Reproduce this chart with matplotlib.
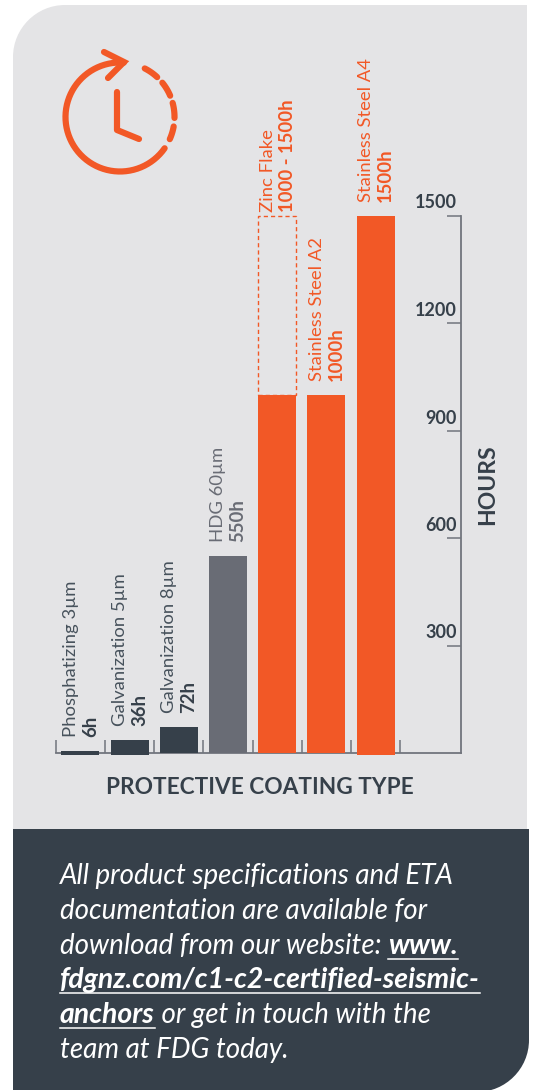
import numpy as np
import matplotlib
matplotlib.use("Agg")
import matplotlib.pyplot as plt
from matplotlib.path import Path
from matplotlib.patches import PathPatch

# --- DATA ---
COATINGS = ["Phosphatizing 3µm", "Galvanization 5µm", "Galvanization 8µm", "HDG 60µm",
            "Zinc Flake", "Stainless Steel A2", "Stainless Steel A4"]
HOURS_LABELS = ["6h", "36h", "72h", "550h", "1000 - 1500h", "1000h", "1500h"]
HOURS = [6, 36, 72, 550, 1000, 1000, 1500]
ZINC_UPPER = 1500
HOUR_TICKS = [300, 600, 900, 1200, 1500]

# --- STYLE ---
GREY_BG = "#E4E4E6"
SLATE = "#36404A"
ORANGE = "#F25826"
MID_GREY = "#696C75"
AXIS_GREY = "#71757D"
BAR_COLORS = [SLATE, SLATE, SLATE, MID_GREY, ORANGE, ORANGE, ORANGE]
NAME_COLORS = ["#47525C", "#47525C", "#47525C", MID_GREY, ORANGE, ORANGE, ORANGE]
VALUE_COLORS = [SLATE, SLATE, SLATE, MID_GREY, ORANGE, ORANGE, ORANGE]
FONT = "Lato"
W, H = 534, 1090
PX = 0.72  # points per pixel at dpi=100

plt.rcParams["font.family"] = FONT
fig = plt.figure(figsize=(W / 100, H / 100), dpi=100, facecolor="white")

# Page layer in pixel coordinates for panels, icon and the note
page = fig.add_axes([0, 0, 1, 1])
page.set_xlim(0, W)
page.set_ylim(H, 0)
page.axis("off")

def rounded_panel(x0, y0, x1, y1, tl=0, br=0):
    """Rectangle with optional rounded top-left / bottom-right corners."""
    k = 0.45
    verts = [(x0 + tl, y0), (x1, y0), (x1, y1 - br)]
    codes = [Path.MOVETO, Path.LINETO, Path.LINETO]
    if br:
        verts += [(x1, y1 - br * k), (x1 - br * k, y1), (x1 - br, y1)]
        codes += [Path.CURVE4] * 3
    verts += [(x0, y1), (x0, y0 + tl)]
    codes += [Path.LINETO, Path.LINETO]
    if tl:
        verts += [(x0, y0 + tl * k), (x0 + tl * k, y0), (x0 + tl, y0)]
        codes += [Path.CURVE4] * 3
    return Path(verts, codes)

page.add_patch(PathPatch(rounded_panel(13, 5, 527, 829, tl=52), fc=GREY_BG, ec="none"))
page.add_patch(PathPatch(rounded_panel(13, 829, 529, 1092, br=52), fc=SLATE, ec="none"))

# Clock icon with circular arrow
ICON_CX, ICON_CY, ICON_R = 120, 117, 54.5
icon_lw = 6.2 * PX

def icon_arc(a0, a1):
    t = np.radians(np.linspace(a0, a1, 60))
    page.plot(ICON_CX + ICON_R * np.cos(t), ICON_CY - ICON_R * np.sin(t), color=ORANGE,
              lw=icon_lw, solid_capstyle="round")

icon_arc(86, 325)
for a0, a1 in [(63, 47), (39, 23), (15, -1), (-10, -24)]:
    icon_arc(a0, a1)
page.plot([104, 124, 108], [52, 62, 78], color=ORANGE, lw=icon_lw,
          solid_capstyle="round", solid_joinstyle="miter")
page.plot([117, 117, 139], [92, 130, 139], color=ORANGE, lw=icon_lw,
          solid_capstyle="round", solid_joinstyle="round")

# Chart axes: baseline at y=753, 1500h at y=215.5, right spine at x=461
AX_L, AX_R, AX_TOP, AX_BOT = 55.5, 461, 215.5, 753
BAR_X0, BAR_STEP = 80.3, 49.2
ax = fig.add_axes([AX_L / W, 1 - AX_BOT / H, (AX_R - AX_L) / W, (AX_BOT - AX_TOP) / H])
ax.patch.set_alpha(0)
ax.set_xlim((AX_L - BAR_X0) / BAR_STEP, (AX_R - BAR_X0) / BAR_STEP)
ax.set_ylim(0, 1500)

x = np.arange(len(COATINGS))
bar_w = 38 / BAR_STEP
sunk = {0, 1, 6}  # these bars sit slightly below the baseline
for i, (val, col) in enumerate(zip(HOURS, BAR_COLORS)):
    bottom = -5 if i in sunk else 0
    ax.bar(x[i], val - bottom, bottom=bottom, width=bar_w, color=col, zorder=3, clip_on=False)

# Zinc flake range shown as a dashed box above the solid bar
ax.bar(x[4], ZINC_UPPER - HOURS[4], bottom=HOURS[4], width=bar_w, fill=False, edgecolor=ORANGE,
       linewidth=1.0, linestyle=(0, (3, 2.2)), zorder=3, clip_on=False)

for s in ["top", "left"]:
    ax.spines[s].set_visible(False)
for s in ["bottom", "right"]:
    ax.spines[s].set_color(AXIS_GREY)
    ax.spines[s].set_linewidth(1.3)

ax.yaxis.tick_right()
ax.set_yticks(HOUR_TICKS)
ax.set_yticklabels([])
ax.set_xticks(np.append(x - 0.5, x[-1] + 0.5))
ax.set_xticklabels([])
ax.tick_params(axis="y", direction="in", length=14 * PX, width=1.1, color=AXIS_GREY)
ax.tick_params(axis="x", direction="in", length=13 * PX, width=1.1, color=AXIS_GREY)

for t in HOUR_TICKS:
    ax.annotate(str(t), xy=(1, t), xycoords=("axes fraction", "data"),
                xytext=(-4 * PX, 12.5 * PX), textcoords="offset points",
                ha="right", va="center", fontsize=13, fontweight="bold", color=SLATE)

# Rotated labels above each bar
for i, (name, hours) in enumerate(zip(COATINGS, HOURS_LABELS)):
    top = ZINC_UPPER if i == 4 else HOURS[i]
    gap = 3.5 if i == 4 else 14
    ax.annotate(name, xy=(x[i], top), xytext=(-9.5 * PX, gap * PX), textcoords="offset points",
                rotation=90, ha="center", va="bottom", fontsize=13.3, color=NAME_COLORS[i],
                zorder=4, annotation_clip=False)
    ax.annotate(hours, xy=(x[i], top), xytext=(10 * PX, gap * PX), textcoords="offset points",
                rotation=90, ha="center", va="bottom", fontsize=13.3, fontweight="bold",
                color=VALUE_COLORS[i], zorder=4, annotation_clip=False)

page.text(260, 786, "PROTECTIVE COATING TYPE", ha="center", va="center_baseline",
          fontsize=16.3, fontweight="bold", color=SLATE)
page.text(488, 484.5, "HOURS", rotation=90, ha="center", va="center",
          fontsize=16.5, fontweight="bold", color=SLATE)

# Note in the dark footer; runs of mixed weight are laid out one after another
NOTE_LINES = [
    [("All product specifications and ETA", False)],
    [("documentation are available for", False)],
    [("download from our website: ", False), ("www.", True)],
    [("fdgnz.com/c1-c2-certified-seismic-", True)],
    [("anchors", True), (" or get in touch with the", False)],
    [("team at FDG today.", False)],
]
NOTE_X, NOTE_BASE, NOTE_LEAD = 60, 884, 34.8
renderer = fig.canvas.get_renderer()
for n, line in enumerate(NOTE_LINES):
    cx = NOTE_X
    base = NOTE_BASE + n * NOTE_LEAD
    for run, strong in line:
        t = page.text(cx, base, run, ha="left", va="baseline", style="italic",
                      fontsize=20.4 if strong else 20,
                      fontweight="bold" if strong else "normal", color="white")
        adv = renderer.get_text_width_height_descent(run.replace(" ", "\u00a0"), t.get_fontproperties(), False)[0]
        if strong:
            page.plot([cx, cx + adv], [base + 5, base + 5], color="white", lw=1.1)
        cx += adv

page.set_xlim(0, W)
page.set_ylim(H, 0)
fig.savefig("out.png", dpi=100, facecolor="white")
